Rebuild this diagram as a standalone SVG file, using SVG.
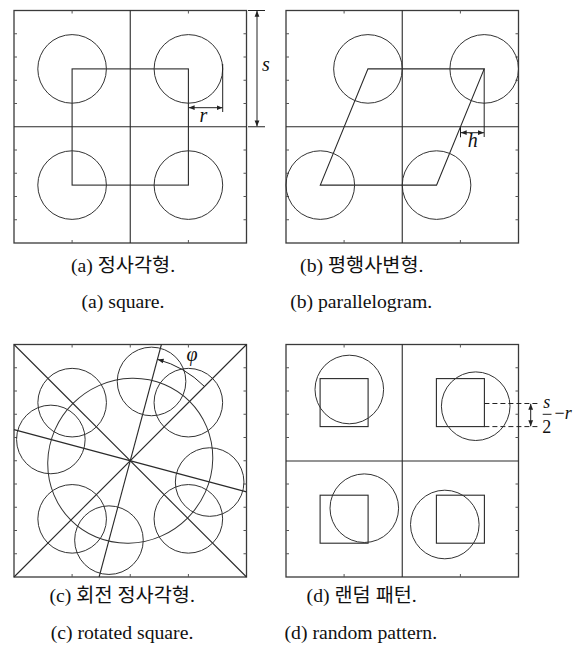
<svg xmlns="http://www.w3.org/2000/svg" width="583" height="645" viewBox="0 0 583 645">
<style>
  .frame{fill:none;stroke:#3a3a3a;stroke-width:1.3}
  .ln{fill:none;stroke:#2a2a2a;stroke-width:1.1}
  .c{fill:none;stroke:#333;stroke-width:1}
  .tick{stroke:#555;stroke-width:1}
  .dim{fill:none;stroke:#222;stroke-width:1}
  .dash{fill:none;stroke:#222;stroke-width:1;stroke-dasharray:5 3}
  .cap{font-family:'Liberation Serif','Times New Roman','DejaVu Serif','Noto Sans CJK KR',serif;font-size:19.7px;fill:#111;text-anchor:middle}
  .var{font-family:'Liberation Serif','Times New Roman','DejaVu Serif',serif;font-style:italic;font-size:20px;fill:#111}
  .m{font-family:'Liberation Serif','Times New Roman','DejaVu Serif',serif;font-size:18px;fill:#111}
</style>
<defs>
  <marker id="ah" viewBox="0 0 6 6" refX="6" refY="3" markerWidth="6" markerHeight="6" markerUnits="userSpaceOnUse" orient="auto-start-reverse">
    <path d="M0,0.6 L6,3 L0,5.4 z" fill="#222"/>
  </marker>
</defs>

<!-- Panel (a) square -->
<g id="panel-a">
  <rect class="frame" x="14" y="10.5" width="232.5" height="232.5"/>
  <path class="tick" d="M14,33.75h3M14,57h3M14,80.25h3M14,103.5h3M14,150h3M14,173.25h3M14,196.5h3M14,219.75h3
    M246.5,33.75h-3M246.5,57h-3M246.5,80.25h-3M246.5,103.5h-3M246.5,150h-3M246.5,173.25h-3M246.5,196.5h-3M246.5,219.75h-3
    M72.1,10.5v3M188.4,10.5v3M72.1,243v-3M188.4,243v-3"/>
  <line class="ln" x1="130.25" y1="10.5" x2="130.25" y2="243"/>
  <line class="ln" x1="14" y1="126.75" x2="246.5" y2="126.75"/>
  <rect class="ln" x="72.1" y="68.9" width="116.3" height="116.2"/>
  <circle class="c" cx="72.1" cy="68.9" r="34.3"/>
  <circle class="c" cx="188.4" cy="68.9" r="34.3"/>
  <circle class="c" cx="72.1" cy="185.1" r="34.3"/>
  <circle class="c" cx="188.4" cy="185.1" r="34.3"/>
</g>
<g id="dim-a">
  <line class="dim" x1="248" y1="10.5" x2="265" y2="10.5"/>
  <line class="dim" x1="248" y1="126.75" x2="265" y2="126.75"/>
  <line class="dim" x1="257" y1="10.8" x2="257" y2="126.4" marker-start="url(#ah)" marker-end="url(#ah)"/>
  <text class="var" x="262" y="70.5">s</text>
  <line class="dim" x1="222.7" y1="64" x2="222.7" y2="112"/>
  <line class="dim" x1="188.6" y1="107.7" x2="222.5" y2="107.7" marker-start="url(#ah)" marker-end="url(#ah)"/>
  <text class="var" x="203.5" y="121.5" text-anchor="middle">r</text>
</g>

<!-- Panel (b) parallelogram -->
<g id="panel-b">
  <rect class="frame" x="286" y="10.5" width="232.5" height="232.5"/>
  <path class="tick" d="M286,33.75h3M286,57h3M286,80.25h3M286,103.5h3M286,150h3M286,173.25h3M286,196.5h3M286,219.75h3
    M518.5,33.75h-3M518.5,57h-3M518.5,80.25h-3M518.5,103.5h-3M518.5,150h-3M518.5,173.25h-3M518.5,196.5h-3M518.5,219.75h-3
    M344.1,10.5v3M460.4,10.5v3M344.1,243v-3M460.4,243v-3"/>
  <line class="ln" x1="402.25" y1="10.5" x2="402.25" y2="243"/>
  <line class="ln" x1="286" y1="126.75" x2="518.5" y2="126.75"/>
  <polygon class="ln" points="367.95,68.9 484.2,68.9 436.55,185.1 320.3,185.1"/>
  <circle class="c" cx="367.95" cy="68.9" r="34.3"/>
  <circle class="c" cx="484.2" cy="68.9" r="34.3"/>
  <circle class="c" cx="320.3" cy="185.1" r="34.3"/>
  <circle class="c" cx="436.55" cy="185.1" r="34.3"/>
</g>
<g id="dim-b">
  <line class="dim" x1="484.2" y1="68.9" x2="484.2" y2="137"/>
  <line class="dim" x1="460.5" y1="126.75" x2="460.5" y2="137.3"/>
  <line class="dim" x1="460.7" y1="132.7" x2="484" y2="132.7" marker-start="url(#ah)" marker-end="url(#ah)"/>
  <text class="var" x="472.8" y="147" text-anchor="middle">h</text>
</g>

<!-- Panel (c) rotated square -->
<g id="panel-c">
  <rect class="frame" x="14" y="344.5" width="232.5" height="232.5"/>
  <path class="tick" d="M14,367.75h3M14,391h3M14,414.25h3M14,437.5h3M14,460.75h3M14,484h3M14,507.25h3M14,530.5h3M14,553.75h3
    M246.5,367.75h-3M246.5,391h-3M246.5,414.25h-3M246.5,437.5h-3M246.5,460.75h-3M246.5,484h-3M246.5,507.25h-3M246.5,530.5h-3M246.5,553.75h-3
    M72.1,344.5v3M130.25,344.5v3M188.4,344.5v3M72.1,577v-3M130.25,577v-3M188.4,577v-3"/>
  <line class="ln" x1="14" y1="344.5" x2="246.5" y2="577"/>
  <line class="ln" x1="246.5" y1="344.5" x2="14" y2="577"/>
  <line class="ln" x1="161.4" y1="344.5" x2="99.1" y2="577"/>
  <line class="ln" x1="14" y1="429.6" x2="246.5" y2="491.9"/>
  <ellipse class="c" cx="130.25" cy="460.75" rx="84" ry="81" transform="rotate(-45 130.25 460.75)"/>
  <circle class="c" cx="72.15" cy="402.65" r="34.3"/>
  <circle class="c" cx="188.35" cy="402.65" r="34.3"/>
  <circle class="c" cx="72.15" cy="518.85" r="34.3"/>
  <circle class="c" cx="188.35" cy="518.85" r="34.3"/>
  <circle class="c" cx="209.65" cy="482.05" r="34.3"/>
  <circle class="c" cx="108.95" cy="540.15" r="34.3"/>
  <circle class="c" cx="50.85" cy="439.45" r="34.3"/>
  <circle class="c" cx="151.55" cy="381.45" r="34.3"/>
</g>
<g id="dim-c">
  <path class="dim" d="M204.5,386.5 A105,105 0 0 0 157.6,359.4" marker-end="url(#ah)"/>
  <text class="var" x="192" y="361" text-anchor="middle">φ</text>
</g>

<!-- Panel (d) random pattern -->
<g id="panel-d">
  <rect class="frame" x="286" y="344.5" width="232.5" height="232.5"/>
  <path class="tick" d="M286,367.75h3M286,391h3M286,414.25h3M286,437.5h3M286,484h3M286,507.25h3M286,530.5h3M286,553.75h3
    M518.5,367.75h-3M518.5,391h-3M518.5,414.25h-3M518.5,437.5h-3M518.5,484h-3M518.5,507.25h-3M518.5,530.5h-3M518.5,553.75h-3
    M344.1,344.5v3M460.4,344.5v3M344.1,577v-3M460.4,577v-3"/>
  <line class="ln" x1="402.25" y1="344.5" x2="402.25" y2="577"/>
  <line class="ln" x1="286" y1="461" x2="518.5" y2="461"/>
  <rect class="ln" x="320.1" y="378.6" width="48" height="48"/>
  <rect class="ln" x="436.4" y="378.6" width="48" height="48"/>
  <rect class="ln" x="320.1" y="495.2" width="48" height="48"/>
  <rect class="ln" x="436.4" y="495.2" width="48" height="48"/>
  <circle class="c" cx="349.3" cy="389.5" r="34.3"/>
  <circle class="c" cx="475.7" cy="406.2" r="34.3"/>
  <circle class="c" cx="364.3" cy="508.2" r="34.3"/>
  <circle class="c" cx="444.8" cy="524.5" r="34.3"/>
</g>
<g id="dim-d">
  <line class="dash" x1="484.4" y1="403.5" x2="538" y2="403.5"/>
  <line class="dash" x1="484.4" y1="426.6" x2="538" y2="426.6"/>
  <line class="dim" x1="530.7" y1="403.8" x2="530.7" y2="426.3" marker-start="url(#ah)" marker-end="url(#ah)"/>
  <text class="m" x="546.8" y="408.3" text-anchor="middle" font-style="italic">s</text>
  <line class="dim" x1="542.7" y1="414.3" x2="551.5" y2="414.3"/>
  <text class="m" x="546.8" y="433.3" text-anchor="middle">2</text>
  <text class="m" x="554.5" y="418.8">−<tspan font-style="italic">r</tspan></text>
</g>

<!-- Captions -->
<g id="captions">
  <text class="cap" x="123" y="271.5">(a) 정사각형.</text>
  <text class="cap" x="123" y="308">(a) square.</text>
  <text class="cap" x="361.8" y="271.5">(b) 평행사변형.</text>
  <text class="cap" x="361.2" y="308">(b) parallelogram.</text>
  <text class="cap" x="122.2" y="601.5">(c) 회전 정사각형.</text>
  <text class="cap" x="122" y="639">(c) rotated square.</text>
  <text class="cap" x="361.7" y="601.5">(d) 랜덤 패턴.</text>
  <text class="cap" x="360.8" y="639">(d) random pattern.</text>
</g>
</svg>
